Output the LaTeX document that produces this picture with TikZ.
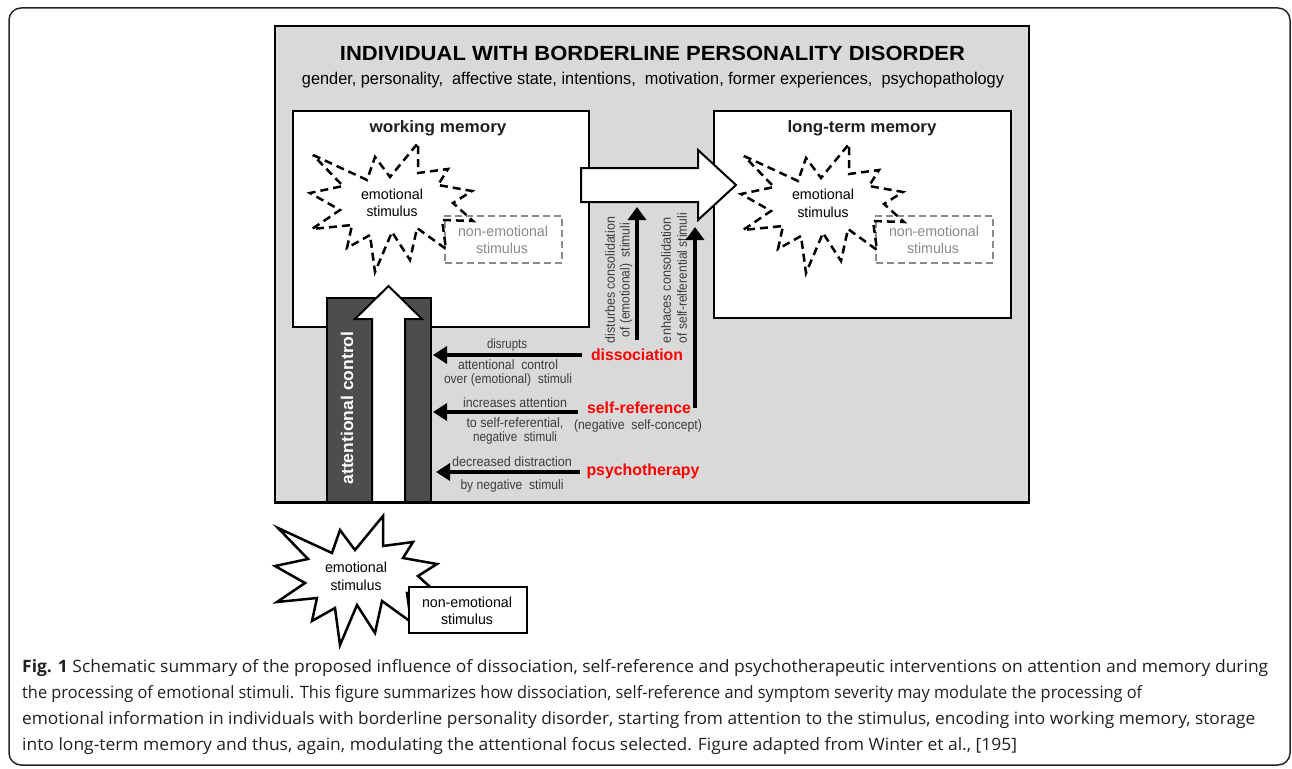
\documentclass[tikz,border=0pt]{standalone}
\usepackage{graphicx}
\usepackage{fontspec}
\setmainfont{Liberation Sans}
\newfontfamily\capfont{Open Sans}
\usetikzlibrary{arrows.meta}
\newcommand\fw[2]{\resizebox{#1pt}{\height}{#2}}
\newlength\caplen
\definecolor{boxgray}{HTML}{D9D9D9}
\definecolor{labgray}{HTML}{3C3C3C}
\definecolor{dashgray}{HTML}{8A8A8A}
\definecolor{barcol}{HTML}{4D4D4D}
\definecolor{redc}{HTML}{FF0000}
\definecolor{captxt}{HTML}{231F20}
\newcommand\starshape[1]{%
  \draw[#1] (313,155) -- (367,180) -- (375,157) -- (390,177) -- (418,143) -- (418,173)
    -- (448,169) -- (438,185) -- (472,191) -- (453,203) -- (473,221) -- (442,220)
    -- (446,249) -- (417,228) -- (410,260) -- (392,232) -- (375,272) -- (370,235)
    -- (347,248) -- (352,225) -- (312,229) -- (340,210) -- (310,193) -- (343,186) -- cycle;}
\newcommand\lineone{\textbf{Fig. 1} Schematic summary of the proposed influence of dissociation, self-reference and psychotherapeutic interventions on attention and memory during}
\tikzset{
  boxs/.style={draw=black, line width=2pt, inner sep=0pt},
  titlef/.style={font=\bfseries\fontsize{20.5}{22}\selectfont, inner sep=0pt},
  subf/.style={font=\fontsize{17}{18}\selectfont, inner sep=0pt},
  headf/.style={font=\bfseries\fontsize{16.5}{17}\selectfont, text=black!88, inner sep=0pt},
  stimf/.style={font=\fontsize{14.5}{15}\selectfont, inner sep=0pt},
  ngray/.style={font=\fontsize{14.5}{15}\selectfont, text=dashgray, inner sep=0pt},
  lbl/.style={font=\fontsize{13.5}{15}\selectfont, text=labgray, inner sep=0pt},
  redl/.style={font=\bfseries\fontsize{16}{17}\selectfont, text=redc, inner sep=0pt},
  blkarrow/.style={line width=4pt, -{Triangle[length=14pt,width=17pt]}},
  uparrow/.style={line width=4pt, -{Triangle[length=13pt,width=18pt]}},
  dstar/.style={line width=2.5pt, dash pattern=on 8pt off 5pt, line join=miter},
  nebox/.style={draw=dashgray, line width=2.5pt, dash pattern=on 7pt off 4pt, minimum width=117pt, minimum height=47pt},
  bigarrow/.style={fill=white, draw=black, line width=2pt, line join=miter},
  capf/.style={font=\capfont\fontsize{17}{20}\selectfont, text=captxt, inner sep=0pt, anchor=base west}
}
\begin{document}
\settowidth\caplen{\capfont\fontsize{17}{20}\selectfont\lineone}%
\pgfmathsetmacro\capfac{1246/\caplen}%
\begin{tikzpicture}[x=1pt,y=-1pt]
\useasboundingbox (0,0) rectangle (1292,768);
\fill[white] (0,0) rectangle (1292,768);
% outer frame
\draw[line width=1.5pt, black!85, rounded corners=12pt] (9,8) rectangle (1290,765);
% big gray box
\node[boxs, fill=boxgray, minimum width=754pt, minimum height=476pt] (bpd) at (652,264) {};
\node[titlef] (title) at (652.5,53) {\fw{625}{INDIVIDUAL WITH BORDERLINE PERSONALITY DISORDER}};
\node[subf] (sub) at (653,80) {\fw{702}{gender, personality,\ \ affective state, intentions,\ \ motivation, former experiences,\ \ psychopathology}};
% memory boxes
\node[boxs, fill=white, minimum width=296pt, minimum height=216pt] (wm) at (441,219) {};
\node[boxs, fill=white, minimum width=297pt, minimum height=207pt] (ltm) at (862.5,214.5) {};
\node[headf] (wmt) at (438,128) {\fw{137}{working memory}};
\node[headf] (ltmt) at (862,128) {\fw{149}{long-term memory}};
% non-emotional dashed boxes
\node[nebox] (ne1) at (503.5,239.5) {};
\node[nebox] (ne2) at (934.5,239.5) {};
\node[ngray] (ne1a) at (503,231) {\fw{90}{non-emotional}};
\node[ngray] (ne1b) at (502,248) {\fw{52}{stimulus}};
\node[ngray] (ne2a) at (934,231) {\fw{90}{non-emotional}};
\node[ngray] (ne2b) at (933,248) {\fw{52}{stimulus}};
% dashed stars
\starshape{dstar}
\starshape{dstar, shift={(431,1)}}
\node[stimf] (es1a) at (392,194) {\fw{62}{emotional}};
\node[stimf] (es1b) at (392,211) {\fw{51}{stimulus}};
\node[stimf] (es2a) at (823,194) {\fw{62}{emotional}};
\node[stimf] (es2b) at (823,212) {\fw{51}{stimulus}};
% big right arrow
\draw[bigarrow] (581,168) -- (698,168) -- (698,150) -- (736,185) -- (698,220) -- (698,202) -- (581,202) -- cycle;
% attentional control bar
\node[draw=black, line width=2pt, fill=barcol, minimum width=104pt, minimum height=204pt] (bar) at (379,400) {};
\draw[bigarrow] (372,502) -- (372,319) -- (355,319) -- (388.5,286) -- (422,319) -- (405,319) -- (405,502) -- cycle;
\node[rotate=90, font=\bfseries\fontsize{17}{18}\selectfont, text=white, inner sep=0pt] (att) at (347,408) {\fw{153}{attentional control}};
\draw[line width=2pt] (bpd.south west) -- (bpd.south east);
% vertical labels
\node[lbl, rotate=90] (v1) at (610,280) {\fw{126}{disturbes consolidation}};
\node[lbl, rotate=90] (v2) at (626,280) {\fw{114}{of (emotional)\ \ stimuli}};
\node[lbl, rotate=90] (v3) at (666,280) {\fw{126}{enhaces consolidation}};
\node[lbl, rotate=90] (v4) at (682,278) {\fw{130}{of self-relferential stimuli}};
% red factors
\node[redl] (dis) at (637,355) {\fw{92}{dissociation}};
\node[redl] (self) at (639,408) {\fw{104}{self-reference}};
\node[redl] (psy) at (643,471) {\fw{113}{psychotherapy}};
\node[lbl] (selfsub) at (638,426) {\fw{128}{(negative\ \ self-concept)}};
% horizontal arrows
\coordinate (d1) at (582,355); \coordinate (d2) at (433,355);
\coordinate (s1) at (578,412); \coordinate (s2) at (433,412);
\coordinate (p1) at (580,472); \coordinate (p2) at (436,472);
\draw[blkarrow] (d1) -- (d2);
\draw[blkarrow] (s1) -- (s2);
\draw[blkarrow] (p1) -- (p2);
% vertical arrows
\coordinate (u1) at (637,340); \coordinate (u1t) at (637,207);
\coordinate (u2) at (695,408); \coordinate (u2t) at (695,227);
\draw[uparrow] (u1) -- (u1t);
\draw[uparrow] (u2) -- (u2t);
% arrow labels
\node[lbl] (l1) at (507,345) {\fw{40}{disrupts}};
\node[lbl] (l2) at (508,365) {\fw{100}{attentional\ \ control}};
\node[lbl] (l3) at (508,380) {\fw{128}{over (emotional)\ \ stimuli}};
\node[lbl] (l4) at (515,403) {\fw{104}{increases attention}};
\node[lbl] (l5) at (515,423) {\fw{97}{to self-referential,}};
\node[lbl] (l6) at (515,438) {\fw{84}{negative\ \ stimuli}};
\node[lbl] (l7) at (512,462) {\fw{120}{decreased distraction}};
\node[lbl] (l8) at (512,486) {\fw{103}{by negative\ \ stimuli}};
% bottom stimulus
\starshape{line width=2.5pt, fill=white, line join=miter, shift={(-35,373)}}
\node[stimf] (es3a) at (356,567) {\fw{62}{emotional}};
\node[stimf] (es3b) at (356,585) {\fw{51}{stimulus}};
\node[draw=black, line width=2.5pt, fill=white, minimum width=118pt, minimum height=46pt] (ne3) at (468,610) {};
\node[stimf] (ne3a) at (467,602) {\fw{90}{non-emotional}};
\node[stimf] (ne3b) at (467,619) {\fw{52}{stimulus}};
% caption
\node[capf] (c1) at (22,672) {\fw{1246}{\lineone}};
\node[capf] (c2) at (22,698) {\fw{1120}{the processing of emotional stimuli. This figure summarizes how dissociation, self-reference and symptom severity may modulate the processing of}};
\node[capf] (c3) at (22,724.5) {\fw{1233}{emotional information in individuals with borderline personality disorder, starting from attention to the stimulus, encoding into working memory, storage}};
\node[capf] (c4) at (22,750.5) {\scalebox{\capfac}[1]{into long-term memory and thus, again, modulating the attentional focus selected. Figure adapted from Winter et al., [195]}};
\end{tikzpicture}
\end{document}
